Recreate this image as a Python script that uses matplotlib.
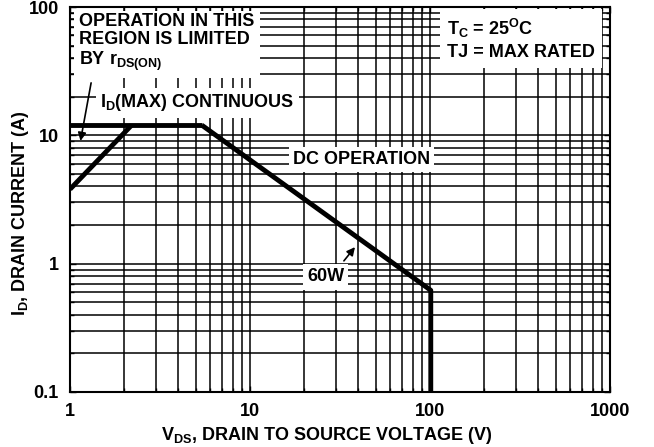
import matplotlib
matplotlib.use('Agg')
import matplotlib.pyplot as plt
from matplotlib.ticker import LogLocator, FixedLocator, FixedFormatter, NullFormatter

plt.rcParams['font.family'] = ['Liberation Sans', 'DejaVu Sans']
plt.rcParams['font.weight'] = 'bold'
plt.rcParams['mathtext.fontset'] = 'custom'
plt.rcParams['mathtext.rm'] = 'Liberation Sans:bold'
plt.rcParams['mathtext.it'] = 'Liberation Sans:bold'
plt.rcParams['mathtext.bf'] = 'Liberation Sans:bold'
plt.rcParams['mathtext.default'] = 'bf'

# safe operating area boundary
rds_v = [1.0, 2.2]
rds_i = [3.8, 12.0]
imax_v = [1.0, 5.4]
imax_i = [12.0, 12.0]
pwr_v = [5.4, 101.0, 101.0]
pwr_i = [12.0, 0.62, 0.1]

x_ticks = [1, 10, 100, 1000]
x_labels = ['1', '10', '100', '1000']
y_ticks = [0.1, 1, 10, 100]
y_labels = ['0.1', '1', '10', '100']

fs = 13

fig = plt.figure(figsize=(6.54, 4.47), dpi=100)
ax = fig.add_axes([70 / 654, 55 / 447, 540 / 654, 385 / 447])
ax.set_xscale('log')
ax.set_yscale('log')
ax.set_xlim(1, 1000)
ax.set_ylim(0.1, 100)

ax.xaxis.set_major_locator(FixedLocator(x_ticks))
ax.xaxis.set_major_formatter(FixedFormatter(x_labels))
ax.yaxis.set_major_locator(FixedLocator(y_ticks))
ax.yaxis.set_major_formatter(FixedFormatter(y_labels))
ax.xaxis.set_minor_locator(LogLocator(base=10, subs=range(2, 10)))
ax.yaxis.set_minor_locator(LogLocator(base=10, subs=range(2, 10)))
ax.xaxis.set_minor_formatter(NullFormatter())
ax.yaxis.set_minor_formatter(NullFormatter())

ax.grid(which='both', color='black', lw=1.1)
ax.set_axisbelow(True)
ax.tick_params(which='both', direction='in', top=True, right=True,
               labelsize=fs, pad=8, width=1)
ax.tick_params(which='major', length=4)
ax.tick_params(which='minor', length=3)
for s in ax.spines.values():
    s.set_linewidth(1.5)

ax.plot(rds_v, rds_i, color='black', lw=3.5, solid_capstyle='butt', zorder=5)
ax.plot(imax_v, imax_i, color='black', lw=3.5, solid_capstyle='butt', zorder=5)
ax.plot(pwr_v, pwr_i, color='black', lw=3.5, solid_capstyle='butt', zorder=5)

box = dict(facecolor='white', edgecolor='none', pad=3)
tkw = dict(transform=ax.transAxes, fontsize=fs, fontweight='bold', zorder=4)

ax.text(0.017, 0.985, 'OPERATION IN THIS\nREGION IS LIMITED\nBY r$_{\\mathbf{DS(ON)}}$',
        ha='left', va='top', linespacing=1.1,
        bbox=dict(facecolor='white', edgecolor='none', pad=4), **tkw)
ax.text(0.056, 0.751, 'I$_\\mathbf{D}$(MAX) CONTINUOUS', ha='left', va='center',
        bbox=box, **tkw)
ax.text(0.413, 0.603, 'DC OPERATION', ha='left', va='center', bbox=box, **tkw)
ax.text(0.439, 0.299, '60W', ha='left', va='center', bbox=box, **tkw)
ax.text(0.698, 0.975, 'T$_\\mathbf{C}$ = 25$^\\mathbf{O}$C\nTJ = MAX RATED',
        ha='left', va='top', linespacing=1.35,
        bbox=dict(facecolor='white', edgecolor='none', pad=5), **tkw)

ax.annotate('', xy=(0.0185, 0.645), xytext=(0.04, 0.81), xycoords='axes fraction',
            arrowprops=dict(arrowstyle='-|>', color='black', lw=1.2, mutation_scale=12),
            zorder=6)
ax.annotate('', xy=(0.531, 0.382), xytext=(0.504, 0.335), xycoords='axes fraction',
            arrowprops=dict(arrowstyle='-|>', color='black', lw=1.2, mutation_scale=12),
            zorder=6)

ax.set_xlabel('V$_\\mathbf{DS}$, DRAIN TO SOURCE VOLTAGE (V)', fontsize=fs,
              fontweight='bold')
ax.set_ylabel('I$_\\mathbf{D}$, DRAIN CURRENT (A)', fontsize=fs,
              fontweight='bold')
ax.xaxis.set_label_coords(0.476, -0.085)
ax.yaxis.set_label_coords(-0.072, 0.465)

fig.savefig('out.png', dpi=100)
